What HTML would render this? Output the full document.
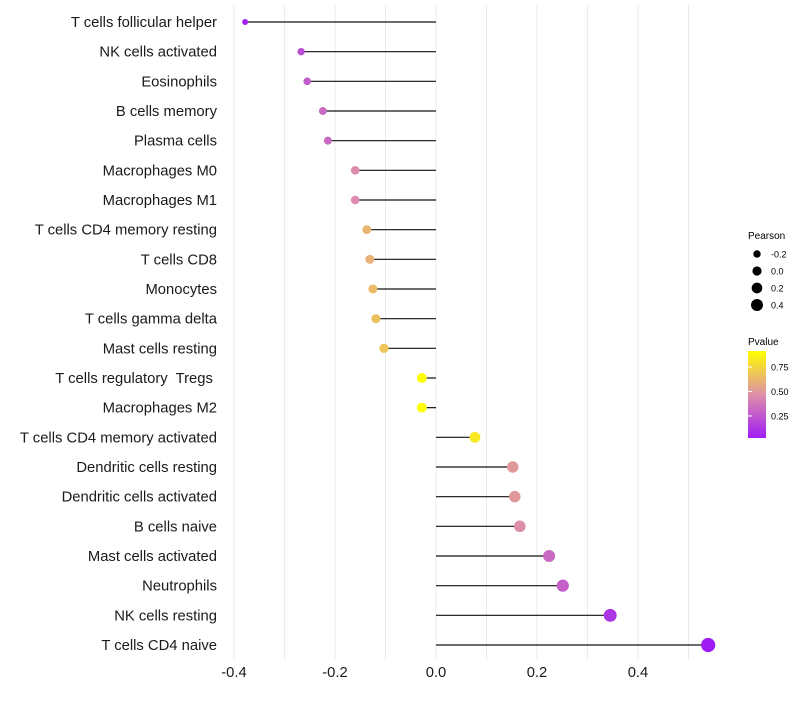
<!DOCTYPE html>
<html><head><meta charset="utf-8"><style>
body{margin:0;background:#fff;font-family:"Liberation Sans",sans-serif}
svg text{font-family:"Liberation Sans",sans-serif;white-space:pre}
</style></head><body>
<svg id="chart" width="800" height="700" xmlns="http://www.w3.org/2000/svg">
<defs><linearGradient id="pg" x1="0" y1="1" x2="0" y2="0">
<stop offset="0" stop-color="#A01CF5"/><stop offset="0.5" stop-color="#DE90A8"/><stop offset="1" stop-color="#FFFF00"/>
</linearGradient></defs>
<g id="grid"></g>
<g id="marks"></g>
<g id="labels"></g>
<g id="xticks"></g>
<g>
<text x="748" y="239" font-size="10">Pearson</text>
<g id="sizeleg"></g>
</g>
<g>
<text x="748" y="345" font-size="10">Pvalue</text>
<rect x="748" y="351" width="18" height="87" fill="url(#pg)"/>
<g id="colleg"></g>
</g>
</svg>
<script>
const cells=["T cells follicular helper","NK cells activated","Eosinophils","B cells memory","Plasma cells","Macrophages M0","Macrophages M1","T cells CD4 memory resting","T cells CD8","Monocytes","T cells gamma delta","Mast cells resting","T cells regulatory  Tregs ","Macrophages M2","T cells CD4 memory activated","Dendritic cells resting","Dendritic cells activated","B cells naive","Mast cells activated","Neutrophils","NK cells resting","T cells CD4 naive"];
const pearson=[-0.378,-0.267,-0.255,-0.224,-0.214,-0.160,-0.160,-0.137,-0.131,-0.125,-0.119,-0.103,-0.028,-0.028,0.077,0.152,0.156,0.166,0.224,0.251,0.345,0.539];
const pvalue=[0.04,0.22,0.27,0.32,0.32,0.45,0.45,0.62,0.6,0.64,0.66,0.68,0.93,0.93,0.82,0.5,0.5,0.46,0.32,0.28,0.12,0.02];
const xTicks=[-0.4,-0.2,0.0,0.2,0.4];
const xTickLabels=["-0.4","-0.2","0.0","0.2","0.4"];
const sizeBreaks=[-0.2,0.0,0.2,0.4];
const colBreaks=[0.25,0.5,0.75];
const NS="http://www.w3.org/2000/svg";
const X=v=>436+v*505;
const Y=i=>22+i*(623/21);
const R=v=>Math.sqrt(Math.max(2,26+45.9*v));
const C=p=>{const t=Math.max(0,Math.min(1,(p-0.025)/(0.913-0.025)));
 const a=[160,28,245],m=[222,144,168],b=[255,255,0];let c;
 if(t<0.5){const u=t/0.5;c=a.map((x,k)=>x+(m[k]-x)*u);}else{const u=(t-0.5)/0.5;c=m.map((x,k)=>x+(b[k]-x)*u);}
 return `rgb(${c.map(Math.round).join(',')})`;};
const CB=p=>438-(p-0.025)/(0.913-0.025)*87;
function mk(tag,attrs,parent){const e=document.createElementNS(NS,tag);for(const k in attrs)e.setAttribute(k,attrs[k]);document.getElementById(parent).appendChild(e);return e;}
for(let v=-0.4;v<=0.55;v+=0.1){const l=mk('line',{x1:X(v),x2:X(v),y1:5,y2:660,stroke:'#ebebeb','stroke-width':1},'grid');

}
cells.forEach((c,i)=>{
 const l=mk('line',{x1:X(0),x2:X(pearson[i]),y1:Y(i),y2:Y(i),stroke:'#111','stroke-width':1.2},'marks');
 
 
 const p=mk('circle',{cx:X(pearson[i]),cy:Y(i),r:R(pearson[i]),fill:C(pvalue[i])},'marks');
 
 
 const t=mk('text',{x:217,y:Y(i)+5,'text-anchor':'end','font-size':14.8,fill:'#1a1a1a'},'labels');
 t.textContent=c;
 
 
});
xTicks.forEach((v,i)=>{const t=mk('text',{x:X(v),y:677,'text-anchor':'middle','font-size':14.8,fill:'#1a1a1a'},'xticks');
t.textContent=xTickLabels[i];

});
sizeBreaks.forEach((v,i)=>{const y=254+i*17;
const c=mk('circle',{cx:757,cy:y,r:R(v)*0.9,fill:'#000'},'sizeleg');


const t=mk('text',{x:771,y:y+3.5,'font-size':9},'sizeleg');t.textContent=v.toFixed(1);

});
colBreaks.forEach(v=>{const y=CB(v);
const t=mk('text',{x:771,y:y+3.5,'font-size':9},'colleg');t.textContent=v.toFixed(2);


const l=mk('line',{x1:748,x2:752,y1:y,y2:y,stroke:'#fff'},'colleg');

});
</script>
</body></html>
